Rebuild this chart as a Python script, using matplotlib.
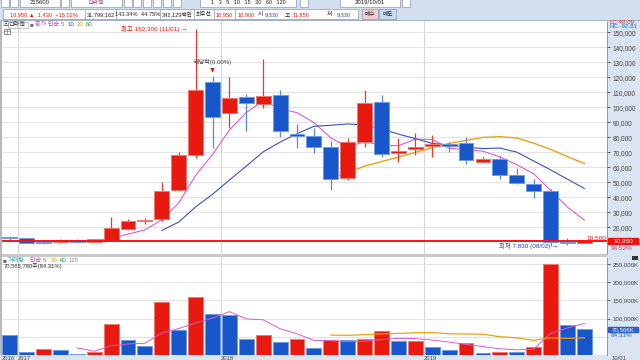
import matplotlib
matplotlib.use('Agg')
import matplotlib.pyplot as plt
import matplotlib.transforms as mtrans
from matplotlib.patches import Rectangle
from matplotlib.ticker import FuncFormatter

plt.rcParams['font.family'] = ['Liberation Sans', 'Noto Sans CJK KR', 'DejaVu Sans']

nan = float('nan')

# monthly candles, 신라젠
months = ['2016/12', '2017/01', '2017/02', '2017/03', '2017/04', '2017/05', '2017/06',
          '2017/07', '2017/08', '2017/09', '2017/10', '2017/11', '2017/12',
          '2018/01', '2018/02', '2018/03', '2018/04', '2018/05', '2018/06',
          '2018/07', '2018/08', '2018/09', '2018/10', '2018/11', '2018/12',
          '2019/01', '2019/02', '2019/03', '2019/04', '2019/05', '2019/06',
          '2019/07', '2019/08', '2019/09', '2019/10']
opens = [13000, 12700, 10000, 9900, 11500, 10200, 11700, 19100, 24400, 25300, 44900, 68000,
         116900, 96000, 106900, 102000, 108000, 82200, 80900, 73300, 52700, 76700, 103700,
         69700, 72200, 74400, 75300, 76200, 63300, 65300, 54900, 48900, 44400, 10300, 9520]
highs = [14200, 13000, 10500, 12400, 12000, 12500, 27000, 25500, 26000, 50400, 70400, 152300,
         120900, 120000, 108900, 132000, 111500, 88900, 86000, 77500, 79300, 111500, 108200,
         79300, 83100, 81500, 77100, 80000, 67100, 67500, 59300, 52000, 45300, 13100, 11850]
lows = [10400, 9500, 8700, 9600, 9800, 9900, 11500, 18200, 22200, 24500, 44500, 66000,
        72700, 86000, 84400, 99300, 80000, 72700, 69300, 44900, 51500, 73300, 66700,
        63300, 68200, 67100, 70400, 62000, 62700, 52000, 48700, 39700, 7830, 8500, 9330]
closes = [12800, 9800, 9800, 11500, 10200, 12000, 19500, 24400, 24900, 44400, 68000, 111300,
          93700, 106400, 103100, 107500, 84400, 80700, 73300, 52000, 76700, 102900, 69100,
          71100, 73500, 75700, 74200, 64700, 65500, 54900, 49300, 44000, 10000, 9520, 10950]

ma5 = [nan] * 4 + [10800, 10700, 12600, 15500, 18200, 25000, 36200, 54600, 68500, 84800,
                   96500, 104400, 99000, 96400, 89800, 79600, 73400, 77100, 74800, 74400,
                   78700, 78500, 72700, 71800, 70700, 67000, 61700, 55700, 44700, 33500, 24800]
ma10 = [nan] * 9 + [17900, 23500, 33600, 42000, 51500, 60800, 70300, 76800, 82400, 87300,
                    88000, 88900, 88100, 85600, 82100, 79100, 75900, 74900, 73300, 72500,
                    72800, 70100, 64200, 58300, 52100, 45900]
ma20 = [nan] * 19 + [53000, 56200, 60800, 63800, 66800, 69900, 73100, 75900, 77900, 79900,
                     80400, 79500, 76100, 72000, 67100, 62500]

# volume in thousands of shares
volume_k = [53600, 8300, 17500, 14700, 3600, 7200, 84200, 42500, 23900, 144400, 68300, 159200,
            112000, 111000, 45300, 55500, 36100, 43400, 20300, 41700, 41000, 43400, 64700,
            37800, 38500, 21100, 14700, 34200, 6400, 9200, 7200, 23000, 250800, 81400, 70566]
vol_ma5 = [nan] * 4 + [19500, 10300, 25400, 30400, 32300, 60400, 72700, 87700, 101600, 119000,
                       99200, 96600, 72000, 58300, 40100, 39400, 36500, 38000, 42200, 45700,
                       45100, 41100, 35400, 29300, 23000, 17100, 14300, 16000, 59300, 74300, 86600]
vol_ma20 = [nan] * 19 + [54600, 54000, 55800, 58100, 59300, 61000, 61700, 58200, 57800, 57000,
                         50200, 47100, 40300, 47300, 45800, 47100]

last_price = 10950
last_volume_label = '70,565,780주(84.31%)'

RED = '#e8190e'
RED_EDGE = '#f2786e'
BLUE = '#1757c9'
BLUE_EDGE = '#6f9ae6'
GRID = '#e3e3e3'
STRIP = '#dbe5f1'
DARK = '#222222'

W, H = 640, 360
fig = plt.figure(figsize=(6.4, 3.6), dpi=100)


def px_axes(x0, y0, x1, y1):
    return fig.add_axes([x0 / W, 1 - y1 / H, (x1 - x0) / W, (y1 - y0) / H])


# background / frame drawn in pixel coordinates
bg = px_axes(0, 0, W, H)
bg.set_xlim(0, W)
bg.set_ylim(H, 0)
bg.axis('off')
bg.add_patch(Rectangle((0, 0), W, 20, color='#d3dfee', lw=0))
bg.add_patch(Rectangle((0, 20), W, 1.2, color='#9fb0c4', lw=0))
bg.add_patch(Rectangle((607, 21), 33, 339, color=STRIP, lw=0))
bg.add_patch(Rectangle((0, 355), W, 5, color=STRIP, lw=0))
bg.add_patch(Rectangle((0, 21), 2, 334, color='#b8b8b8', lw=0))
bg.add_patch(Rectangle((2, 254), 605, 3, color='#c9c9c9', lw=0))

# toolbar row 1 (cut at top)
for x0, x1 in [(1, 9), (10, 18), (20, 60), (61, 69), (71, 122), (124, 132), (133, 141),
               (143, 151), (153, 161), (163, 171), (173, 181), (200, 296), (300, 308),
               (340, 400), (402, 410)]:
    bg.add_patch(Rectangle((x0, -2), x1 - x0, 9, facecolor='white', edgecolor='#8c9bb0', lw=0.5))
bg.text(40, 3, '215600', fontsize=4.3, ha='center', va='center', color=DARK)
bg.text(96, 3, '신라젠', fontsize=4.3, ha='center', va='center', color='#c02070')
bg.text(248, 3, '1   3   5   10   15   30   60   120', fontsize=4.0, ha='center', va='center', color=DARK)
bg.text(370, 3, '2019/10/01', fontsize=4.3, ha='center', va='center', color=DARK)

# toolbar row 2: quote line
bg.add_patch(Rectangle((3, 9), 355, 10, facecolor='white', edgecolor='#8c9bb0', lw=0.5))
for sx in [85, 116, 160, 194, 214, 235]:
    bg.plot([sx, sx], [9, 19], color='#8c9bb0', lw=0.5)
bg.add_patch(Rectangle((362, 9), 16, 10, facecolor='#f6cccc', edgecolor='#8c9bb0', lw=0.5))
bg.add_patch(Rectangle((379, 9), 17, 10, facecolor='#c9dcf2', edgecolor='#8c9bb0', lw=0.5))
quote_c = [('10,950 ▲  1,430  +15.02%', 44, RED), ('31,799,162', 100.5, DARK),
           ('143.34%  44.75%', 138, DARK), ('342,129백만', 177, DARK), ('최우선', 204, DARK),
           ('10,950', 224.5, RED)]
for txt, tx, col in quote_c:
    bg.text(tx, 14.3, txt, fontsize=4.1, ha='center', va='center', color=col)
quote_l = [('10,900', 238, RED), ('시', 258, DARK), ('9,330', 265, BLUE), ('고', 285, DARK),
           ('11,850', 293, RED), ('저', 327, DARK), ('9,330', 337, BLUE)]
for txt, tx, col in quote_l:
    bg.text(tx, 14.3, txt, fontsize=4.1, ha='left', va='center', color=col)
bg.text(370, 14.3, '매수', fontsize=4.1, ha='center', va='center', color=DARK)
bg.text(387.5, 14.3, '매도', fontsize=4.1, ha='center', va='center', color=DARK)

x = list(range(len(months)))
up = [c >= o for o, c in zip(opens, closes)]
xlim = (-0.456, 35.34)


def style_panel(a, ticks, fmt, labelsize):
    a.set_facecolor('white')
    a.set_xlim(*xlim)
    a.set_yticks(ticks)
    a.yaxis.tick_right()
    a.yaxis.set_major_formatter(FuncFormatter(fmt))
    a.tick_params(axis='y', labelsize=labelsize, length=2.5, width=0.6, pad=1.5, colors='#444')
    a.set_xticks([])
    a.yaxis.grid(True, color=GRID, lw=0.8, zorder=0)
    a.set_axisbelow(True)
    for s in ['top', 'left', 'bottom']:
        a.spines[s].set_visible(False)
    a.spines['right'].set_color('#8a8a8a')
    a.spines['right'].set_linestyle((0, (1, 1)))
    a.spines['right'].set_linewidth(0.6)


year_bounds = [i - 0.5 for i in range(1, len(months)) if months[i][:4] != months[i - 1][:4]]

# ---------------- price panel ----------------
ax = px_axes(2, 21, 607, 254)
style_panel(ax, range(20000, 150001, 10000), lambda v, p: f'{v:,.0f}', 4.7)
ax.set_ylim(2200, 157500)
for b in year_bounds:
    ax.axvline(b, color='#d6d6d6', lw=0.8, zorder=0)

ax.plot(x, ma5, color='#e05ad0', lw=0.8, zorder=2)
ax.plot(x, ma10, color='#3a52c2', lw=0.8, zorder=2)
ax.plot(x, ma20, color='#f0a010', lw=1.0, zorder=2)

wick_cols = ['#e63a30' if u else '#5a88dc' for u in up]
ax.vlines(x, lows, highs, colors=wick_cols, lw=0.9, zorder=3)
body_bottom = [min(o, c) for o, c in zip(opens, closes)]
body_h = [max(abs(c - o), 700) for o, c in zip(opens, closes)]
ax.bar(x, body_h, bottom=body_bottom, width=0.88,
       color=[RED if u else BLUE for u in up],
       edgecolor=[RED_EDGE if u else BLUE_EDGE for u in up], linewidth=0.7, zorder=4)

ax.axhline(last_price, color='#ff1010', lw=1.4, zorder=5)

i_hi = highs.index(max(highs))
i_lo = lows.index(min(lows))
ax.text(i_hi - 0.45, highs[i_hi], f'최고 {highs[i_hi]:,} ({months[i_hi][5:]}/01) →', ha='right',
        va='center', fontsize=4.6, color='#ee1010', zorder=6)
ax.text(i_lo + 0.45, lows[i_lo], f'최저 {lows[i_lo]:,} (08/02) →', ha='right',
        va='center', fontsize=4.6, color='#2a3fd0', zorder=6)
ax.text(12, 130500, '배당락(0.00%)', ha='center', va='center', fontsize=4.4, color='#444', zorder=6)
ax.annotate('', xy=(12, 121300), xytext=(12, 126500),
            arrowprops=dict(arrowstyle='-|>', color='#ee1010', lw=0.8, mutation_scale=5), zorder=6)
ax.text(35.3, 13300, '10,500', ha='right', va='center', fontsize=4.6, color='#ee1010', zorder=6)

# last price box on the axis strip
bt = mtrans.blended_transform_factory(ax.transAxes, ax.transData)
ax.add_patch(Rectangle((1.002, last_price - 2300), 0.05, 4300, transform=bt, color='#f01010',
                       clip_on=False, zorder=7))
ax.text(1.027, last_price - 150, f'{last_price:,}', transform=bt, ha='center', va='center',
        fontsize=4.6, color='white', clip_on=False, zorder=8)
ax.text(1.006, last_price - 5000, '34.52%', transform=bt, ha='left', va='center',
        fontsize=4.6, color='#e03070', clip_on=False, zorder=8)

# ---------------- volume panel ----------------
vx = px_axes(2, 257, 607, 355)
style_panel(vx, range(100000, 250001, 50000), lambda v, p: f'{v:,.0f}K', 4.4)
vx.set_ylim(0, 269200)
vx.axhline(50000, color=GRID, lw=0.8, zorder=0)
for b in year_bounds:
    vx.axvline(b, color='#d6d6d6', lw=0.8, zorder=0)

vol_up = [False] + [volume_k[i] > volume_k[i - 1] for i in range(1, len(volume_k))]
vx.bar(x, volume_k, width=0.88, color=[RED if u else BLUE for u in vol_up],
       edgecolor=[RED_EDGE if u else BLUE_EDGE for u in vol_up], linewidth=0.7, zorder=2)
vx.plot(x, vol_ma5, color='#e05ad0', lw=0.7, zorder=3)
vx.plot(x, vol_ma20, color='#f0a010', lw=0.9, zorder=3)

vbt = mtrans.blended_transform_factory(vx.transAxes, vx.transData)
vx.add_patch(Rectangle((1.002, volume_k[-1] - 7500), 0.05, 15000, transform=vbt, color='#2a5fcc',
                       clip_on=False, zorder=7))
vx.text(1.027, volume_k[-1], f'{volume_k[-1]:,}K', transform=vbt, ha='center', va='center',
        fontsize=4.4, color='white', clip_on=False, zorder=8)
vx.text(1.006, volume_k[-1] - 17000, '84.31%', transform=vbt, ha='left', va='center',
        fontsize=4.6, color='#2a5fcc', clip_on=False, zorder=8)

# year labels along the bottom strip
xbt = mtrans.blended_transform_factory(vx.transData, vx.transAxes)
vx.text(xlim[0], -0.035, months[0][:4], transform=xbt, fontsize=4.2, ha='left', va='center',
        color='#444', clip_on=False)
for b in year_bounds:
    vx.text(b, -0.035, months[int(b + 0.5)][:4], transform=xbt, fontsize=4.2, ha='left',
            va='center', color='#444', clip_on=False)

# overlay: legends and strip labels in pixel coordinates
ov = px_axes(0, 0, W, H)
ov.set_xlim(0, W)
ov.set_ylim(H, 0)
ov.axis('off')

leg = [('▣', 2, '#555'), ('신라젠', 9, DARK), ('■', 30, '#666'), ('종가 단순 5', 35, '#d040c0'),
       ('10', 68, '#3050c0'), ('20', 77, '#e8a000'), ('60', 86, '#30a030')]
for txt, tx, col in leg:
    ov.text(tx, 24.5, txt, fontsize=4.4, ha='left', va='center', color=col)
ov.add_patch(Rectangle((7.5, 21.5), 20.5, 6, facecolor='none', edgecolor='#999', lw=0.4))
ov.add_patch(Rectangle((4, 28.5), 6, 5, facecolor='white', edgecolor='#666', lw=0.5))
ov.plot([7, 7], [28.5, 33.5], color='#666', lw=0.4)
ov.plot([4, 10], [31, 31], color='#666', lw=0.4)

vleg = [('■', 3, '#666'), ('거래량', 8, '#20a0a8'), ('단순 5', 30, '#d040c0'),
        ('20', 51, '#e8a000'), ('60', 60, '#30a030'), ('120', 69, '#888')]
for txt, tx, col in vleg:
    ov.text(tx, 260.5, txt, fontsize=4.4, ha='left', va='center', color=col)
ov.text(4, 266.5, last_volume_label, fontsize=4.2, ha='left', va='center', color='#333')

ov.text(609, 22.3, 'LC:40.09', fontsize=4.4, ha='left', va='center', color='#e02020')
ov.text(609, 27.0, 'HC:-92.81', fontsize=4.4, ha='left', va='center', color='#2060e0')
ov.add_patch(Rectangle((632, 256), 6, 4, color='#333', lw=0))
ov.text(612, 358, '10/01', fontsize=4.2, ha='left', va='center', color='#444')

fig.savefig('out.png', dpi=100)
